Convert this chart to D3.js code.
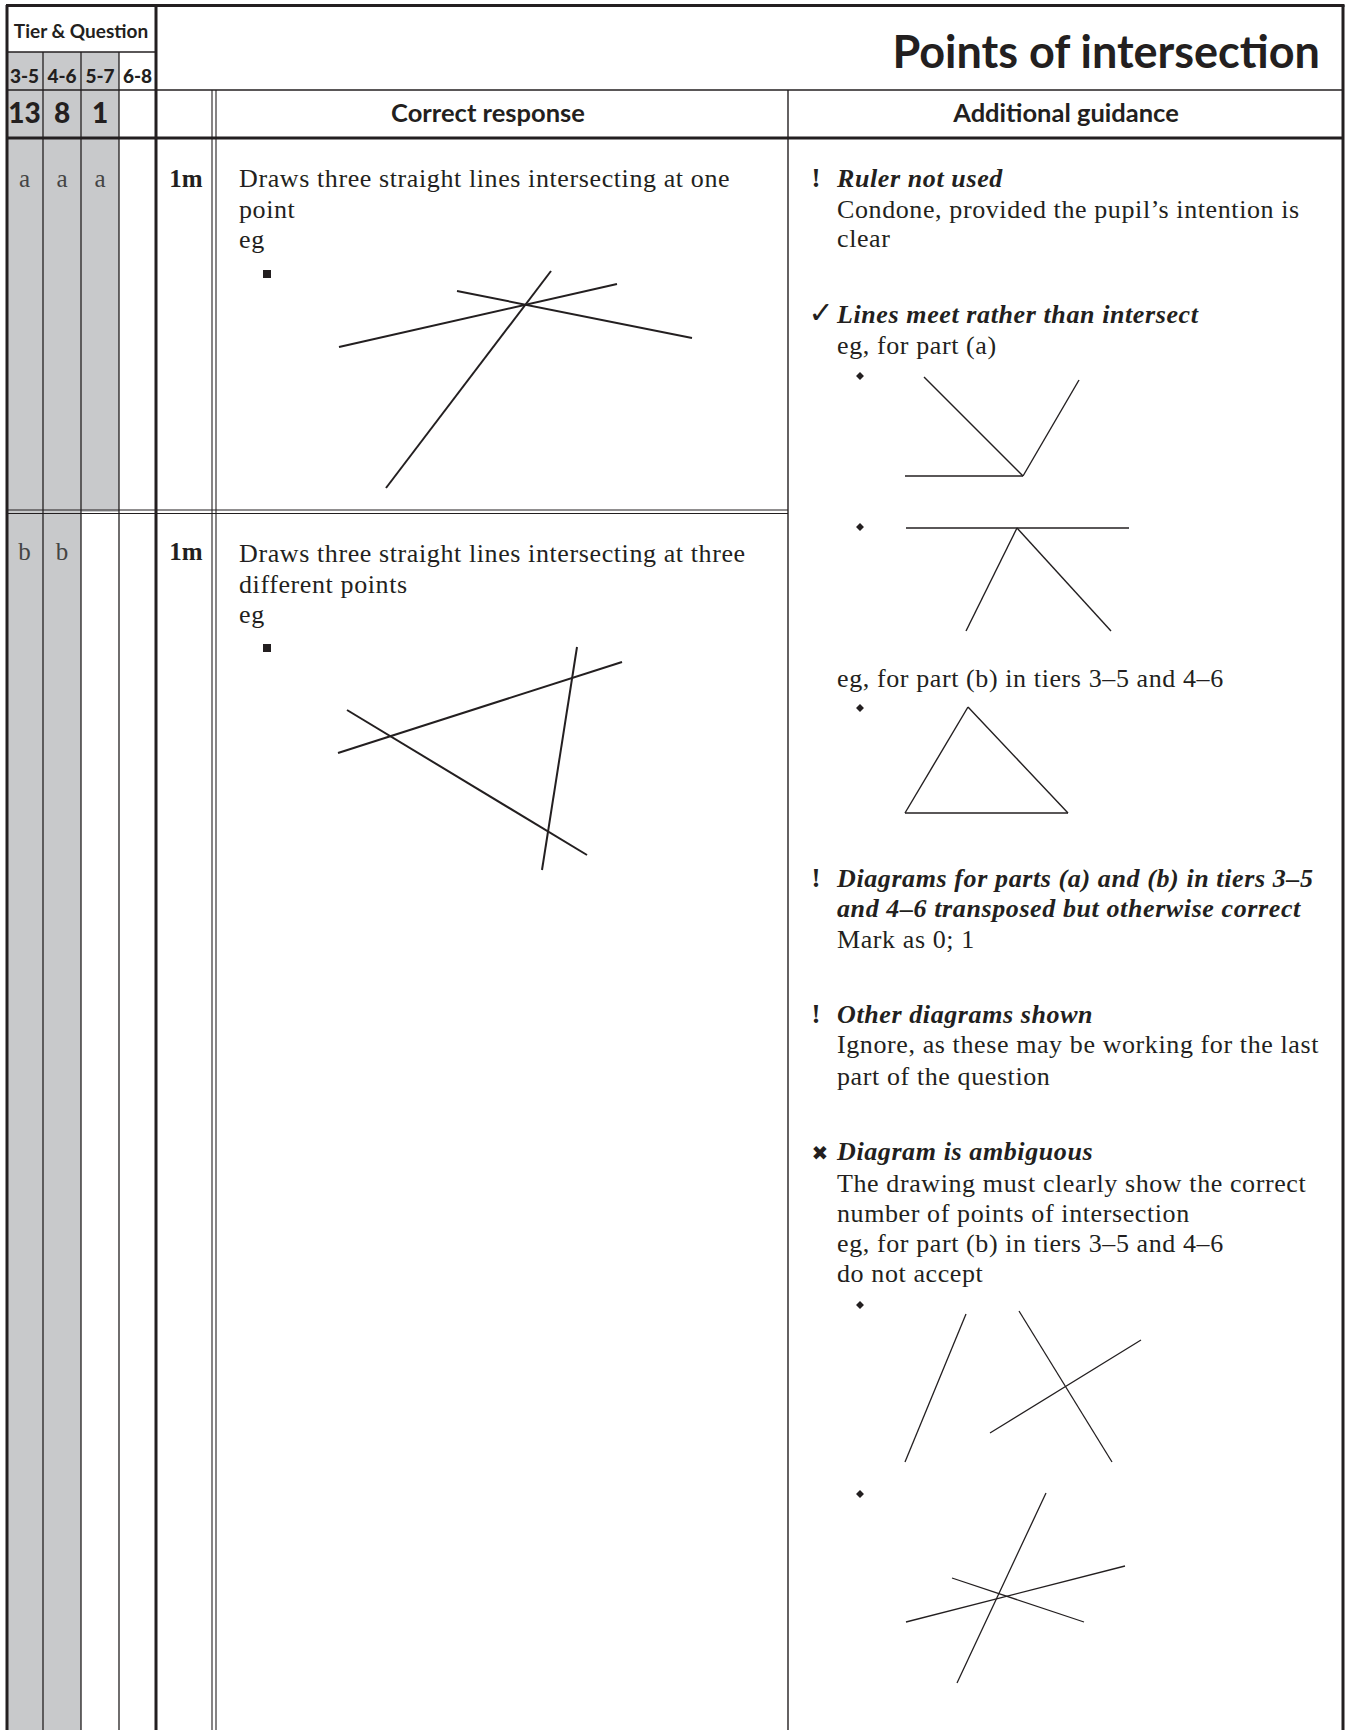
<!DOCTYPE html>
<html><head><meta charset="utf-8">
<script src="https://cdn.jsdelivr.net/npm/d3@7/dist/d3.min.js"></script>
<style>body{margin:0;background:#fff}</style>
</head><body>
<svg id="page"></svg>
<script>
// ---------------- DATA ----------------
const title = "Points of intersection";
const tierHeader = "Tier & Question";
const tierLabels = ["3-5", "4-6", "5-7", "6-8"];
const questionNumbers = ["13", "8", "1", ""];
const partA = ["a", "a", "a", ""];
const partB = ["b", "b", "", ""];
const marks = ["1m", "1m"];
const columnHeaders = ["Correct response", "Additional guidance"];
const responseA = ["Draws three straight lines intersecting at one", "point", "eg"];
const responseB = ["Draws three straight lines intersecting at three", "different points", "eg"];
// guidance lines: [icon, kind (h = italic heading, b = body), text]
const guidanceLines = [
  ["!", "h", "Ruler not used"],
  ["", "b", "Condone, provided the pupil\u2019s intention is"],
  ["", "b", "clear"],
  ["\u2713", "h", "Lines meet rather than intersect"],
  ["", "b", "eg, for part (a)"],
  ["", "b", "eg, for part (b) in tiers 3\u20135 and 4\u20136"],
  ["!", "h", "Diagrams for parts (a) and (b) in tiers 3\u20135"],
  ["", "h", "and 4\u20136 transposed but otherwise correct"],
  ["", "b", "Mark as 0; 1"],
  ["!", "h", "Other diagrams shown"],
  ["", "b", "Ignore, as these may be working for the last"],
  ["", "b", "part of the question"],
  ["\u2716", "h", "Diagram is ambiguous"],
  ["", "b", "The drawing must clearly show the correct"],
  ["", "b", "number of points of intersection"],
  ["", "b", "eg, for part (b) in tiers 3\u20135 and 4\u20136"],
  ["", "b", "do not accept"]
];
// diagram segments [x1, y1, x2, y2] in diagram units, relative to each diagram's bullet
const diagramResponseA = [[72, 73, 350, 10], [190, 17, 425, 64], [284, -3, 119, 214]];
const diagramResponseB = [[71, 105, 355, 14], [80, 62, 320, 207], [310, -1, 275, 222]];
const diagramMeetA1 = [[64, 1, 163, 100], [163, 100, 219, 4], [45, 100, 163, 100]];
const diagramMeetA2 = [[46, 1, 269, 1], [157, 1, 106, 104], [157, 1, 251, 104]];
const diagramTriangle = [[108, -1, 45, 105], [45, 105, 208, 105], [208, 105, 108, -1]];
const diagramAmbig1 = [[106, 9, 45, 157], [159, 6, 252, 157], [281, 35, 130, 128]];
const diagramAmbig2 = [[186, -1, 97, 189], [92, 84, 224, 128], [46, 128, 265, 72]];

// ---------------- LAYOUT ----------------
const W = 1350, H = 1730;
const SERIF = "'Liberation Serif', 'Times New Roman', serif";
const SANS = "Lato, 'Open Sans', sans-serif";
const GREY = "#c8c9cb";
const INK = "#231f20";
const colX = [6, 43, 81, 119, 156];      // tier columns edges
const markCol = [156, 212];
const respX0 = 216, divX = 788, rightX = 1343;
const yTop = 5, yTierBottom = 52, yHeadLine = 90, yHeadBottom = 138, yRowSep = 510;
const guidanceBaselines = [187, 218, 247, 323, 354, 687, 887, 917, 948, 1023, 1053, 1085, 1160, 1192, 1222, 1252, 1282];

const svg = d3.select("#page").attr("width", W).attr("height", H)
  .style("display", "block").style("background", "#fff");

// grey shading of tier columns
const greyCells = [
  [0, yTierBottom, yRowSep + 2], [1, yTierBottom, H], [2, yTierBottom, yRowSep + 2],
  [0, yRowSep + 2, H], [1, yRowSep + 2, H]
];
svg.selectAll("rect.grey").data(greyCells).join("rect")
  .attr("x", d => colX[d[0]]).attr("width", d => colX[d[0] + 1] - colX[d[0]])
  .attr("y", d => d[1]).attr("height", d => d[2] - d[1]).attr("fill", GREY);

// lines of the table
function line(x1, y1, x2, y2, w) {
  svg.append("line").attr("x1", x1).attr("y1", y1).attr("x2", x2).attr("y2", y2)
    .attr("stroke", INK).attr("stroke-width", w);
}
[colX[1], colX[2], colX[3]].forEach(x => line(x, yTierBottom, x, H, 1.3));
line(markCol[1], yHeadLine, markCol[1], H, 1.1);
line(respX0, yHeadLine, respX0, H, 1.1);
line(divX, yHeadLine, divX, H, 1.4);
line(colX[0], yTierBottom, colX[4], yTierBottom, 1.3);
line(colX[0], yHeadLine, rightX, yHeadLine, 1.3);
line(colX[0], yHeadBottom, rightX, yHeadBottom, 3);
line(colX[0], yRowSep, divX, yRowSep, 1.2);
line(colX[0], yRowSep + 3.5, divX, yRowSep + 3.5, 1.2);
line(colX[4], yTop, colX[4], H, 3);
line(colX[0] + 1, yTop, colX[0] + 1, H, 3);
line(rightX, yTop, rightX, H, 3);
line(colX[0], yTop + 0.5, rightX + 1.5, yTop + 0.5, 3);

function txt(x, y, s, font, size, weight, anchor, style) {
  return svg.append("text").attr("x", x).attr("y", y).text(s)
    .attr("font-family", font).attr("font-size", size).attr("font-weight", weight || "normal")
    .attr("font-style", style || "normal").attr("text-anchor", anchor || "start").attr("fill", INK);
}
txt(81, 38, tierHeader, SANS, 19, "bold", "middle");
const colCenters = d3.range(4).map(i => (colX[i] + colX[i + 1]) / 2);
svg.selectAll("text.tier").data(tierLabels).join("text")
  .attr("x", (d, i) => colCenters[i]).attr("y", 83).text(d => d)
  .attr("font-family", SANS).attr("font-size", 19).attr("font-weight", "900")
  .attr("text-anchor", "middle").attr("fill", INK);
svg.selectAll("text.qn").data(questionNumbers).join("text")
  .attr("x", (d, i) => colCenters[i]).attr("y", 123).text(d => d)
  .attr("font-family", SANS).attr("font-size", 28).attr("font-weight", "900")
  .attr("text-anchor", "middle").attr("fill", INK);
txt(1320, 68, title, SANS, 45, "bold", "end");
txt(488, 122, columnHeaders[0], SANS, 25.5, "bold", "middle");
txt(1066, 122, columnHeaders[1], SANS, 25.5, "bold", "middle");

[[partA, 187], [partB, 560]].forEach(([arr, y]) => {
  svg.append("g").selectAll("text").data(arr).join("text")
    .attr("x", (d, i) => colCenters[i]).attr("y", y).text(d => d)
    .attr("font-family", SERIF).attr("font-size", 25).attr("text-anchor", "middle").attr("fill", "#444");
});
marks.forEach((m, i) => txt(186, [187, 560][i], m, SERIF, 25, "bold", "middle"));

const lh = 30.5;
function bodyLines(arr, x, y0) {
  svg.append("g").selectAll("text").data(arr).join("text")
    .attr("x", x).attr("y", (d, i) => y0 + i * lh).text(d => d)
    .attr("font-family", SERIF).attr("font-size", 26).attr("letter-spacing", 0.6).attr("fill", INK);
}
bodyLines(responseA, 239, 187);
bodyLines(responseB, 239, 562);

const gText = svg.append("g").selectAll("g").data(guidanceLines).join("g")
  .attr("transform", (d, i) => `translate(0,${guidanceBaselines[i]})`);
gText.append("text").attr("x", 837).text(d => d[2])
  .attr("font-family", SERIF).attr("font-size", 26).attr("letter-spacing", 0.6)
  .attr("font-weight", d => d[1] === "h" ? "bold" : "normal")
  .attr("font-style", d => d[1] === "h" ? "italic" : "normal").attr("fill", INK);
gText.filter(d => d[0] === "!").append("text").attr("x", 816).text("!")
  .attr("font-family", SERIF).attr("font-size", 27).attr("font-weight", "bold").attr("text-anchor", "middle").attr("fill", INK);
gText.filter(d => d[0] === "\u2713").append("text").attr("x", 821).text(d => d[0])
  .attr("font-family", "'DejaVu Sans', sans-serif").attr("font-size", 30).attr("font-weight", "bold").attr("text-anchor", "middle").attr("fill", INK);
gText.filter(d => d[0] === "\u2716").append("text").attr("x", 820).attr("y", 0).text(d => d[0])
  .attr("font-family", "'DejaVu Sans', sans-serif").attr("font-size", 20).attr("text-anchor", "middle").attr("fill", INK);

const diagrams = [
  {segs: diagramResponseA, bx: 267, by: 274, bullet: "square", w: 2},
  {segs: diagramResponseB, bx: 267, by: 648, bullet: "square", w: 2},
  {segs: diagramMeetA1, bx: 860, by: 376, bullet: "diamond", w: 1.4},
  {segs: diagramMeetA2, bx: 860, by: 527, bullet: "diamond", w: 1.4},
  {segs: diagramTriangle, bx: 860, by: 708, bullet: "diamond", w: 1.4},
  {segs: diagramAmbig1, bx: 860, by: 1305, bullet: "diamond", w: 1.3},
  {segs: diagramAmbig2, bx: 860, by: 1494, bullet: "diamond", w: 1.3}
];
diagrams.forEach(dg => {
  const x = d3.scaleLinear().domain([0, 100]).range([dg.bx, dg.bx + 100]);
  const y = d3.scaleLinear().domain([0, 100]).range([dg.by, dg.by + 100]);
  const g = svg.append("g");
  g.selectAll("line").data(dg.segs).join("line")
    .attr("x1", d => x(d[0])).attr("y1", d => y(d[1]))
    .attr("x2", d => x(d[2])).attr("y2", d => y(d[3]))
    .attr("stroke", INK).attr("stroke-width", dg.w).attr("stroke-linecap", "butt");
  const sym = dg.bullet === "square"
    ? d3.symbol().type(d3.symbolSquare).size(64)
    : d3.symbol().type(d3.symbolDiamond2).size(40);
  g.append("path").attr("d", sym()).attr("transform", `translate(${x(0)},${y(0)})`).attr("fill", INK);
});
</script>
</body></html>
